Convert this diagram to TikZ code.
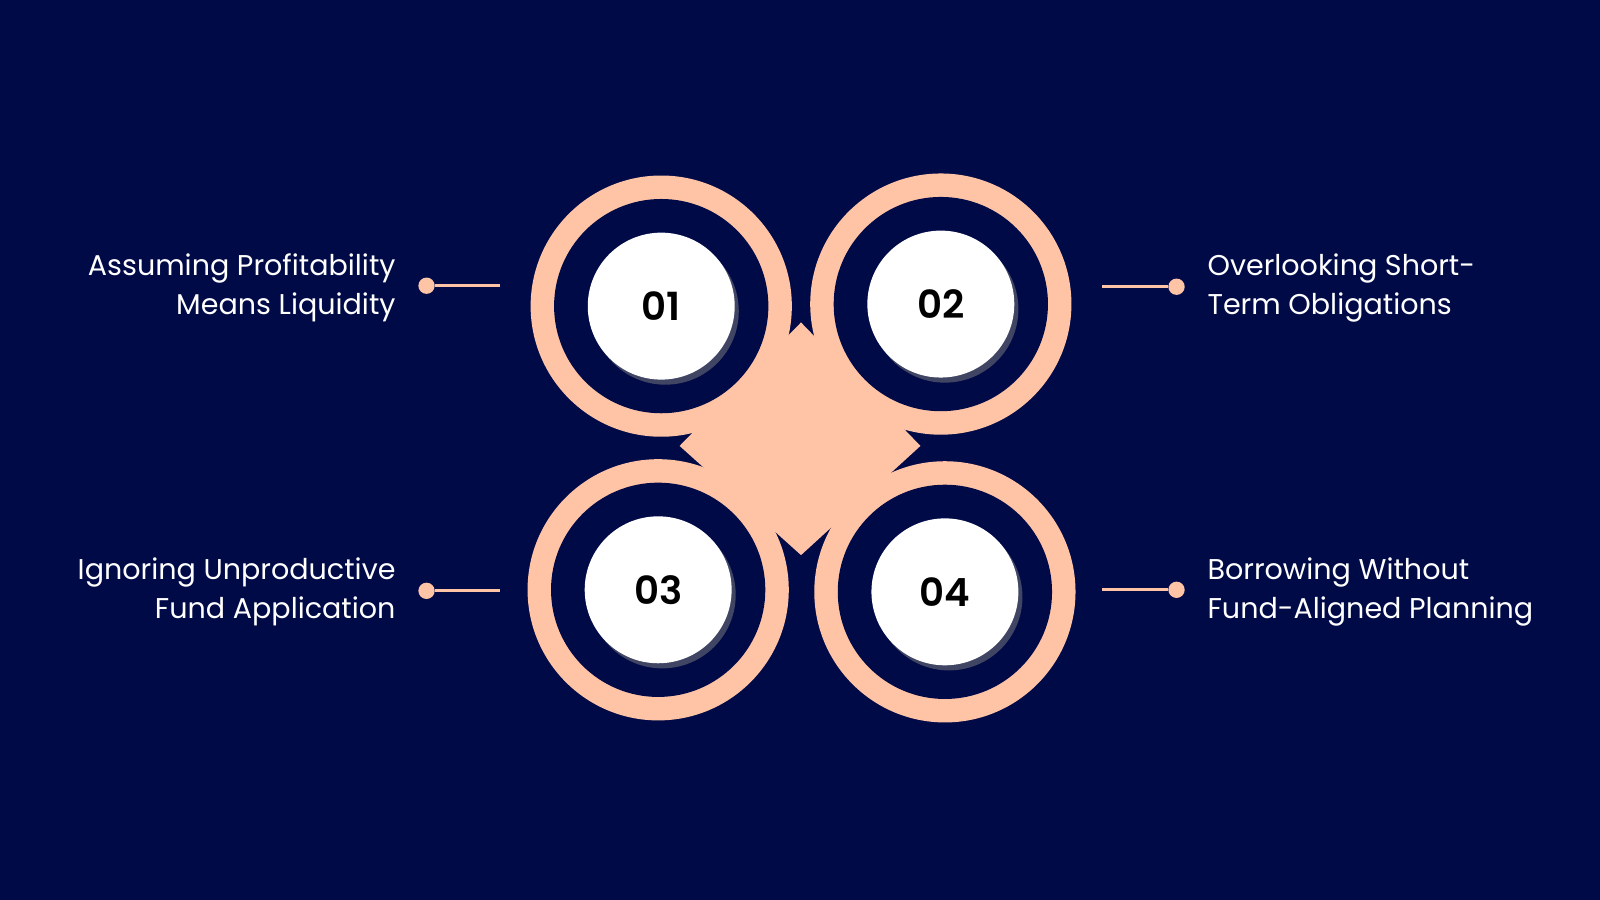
\documentclass[tikz,border=0pt]{standalone}
\usepackage{fontspec}
\setmainfont{Poppins}
\newfontfamily\popsb{Poppins SemiBold}
\definecolor{bg}{HTML}{000A47}
\definecolor{peach}{HTML}{FFC3A6}
\begin{document}
\begin{tikzpicture}[x=0.5pt,y=-0.5pt,
  lbl/.style={text=white,font=\fontsize{14}{19}\selectfont,inner sep=0pt},
  num/.style={circle,minimum size=72pt,fill=white,inner sep=0pt,font=\popsb\fontsize{19}{22}\selectfont,text=black},
  con/.style={peach,line width=1.5pt},
  dot/.style={circle,fill=peach,minimum size=8pt,inner sep=0pt}]
\fill[bg] (0,0) rectangle (1568,882);
\useasboundingbox (0,0) rectangle (1568,882);
\fill[peach] (785,316) -- (902,437) -- (785,544) -- (666,437) -- cycle;
\foreach \n/\x/\y in {a/648/300,b/922/298,c/645/578,d/926/580}{
  \fill[peach] (\x,\y) circle[radius=128];
  \fill[bg] (\x,\y) circle[radius=105];
  \fill[black!50,opacity=0.5] (\x+4,\y+5) circle[radius=72];
}
\node[num] (n1) at (648,300) {01};
\node[num] (n2) at (922,298) {02};
\node[num] (n3) at (645,578) {03};
\node[num] (n4) at (926,580) {04};
\node[dot] (d1) at (418,280) {}; \coordinate (e1) at (490,280);
\node[dot] (d2) at (1153,281) {}; \coordinate (e2) at (1080,281);
\node[dot] (d3) at (418,579) {}; \coordinate (e3) at (490,579);
\node[dot] (d4) at (1153,578) {}; \coordinate (e4) at (1080,578);
\draw[con] (d1) -- (e1); \draw[con] (d2) -- (e2);
\draw[con] (d3) -- (e3); \draw[con] (d4) -- (e4);
\node[lbl,align=right,anchor=east] (t1) at (388,282) {Assuming Profitability\\Means Liquidity};
\node[lbl,align=left,anchor=west] (t2) at (1183,282) {Overlooking Short-\\Term Obligations};
\node[lbl,align=right,anchor=east] (t3) at (388,580) {Ignoring Unproductive\\Fund Application};
\node[lbl,align=left,anchor=west] (t4) at (1183,580) {Borrowing Without\\Fund-Aligned Planning};
\end{tikzpicture}
\end{document}
